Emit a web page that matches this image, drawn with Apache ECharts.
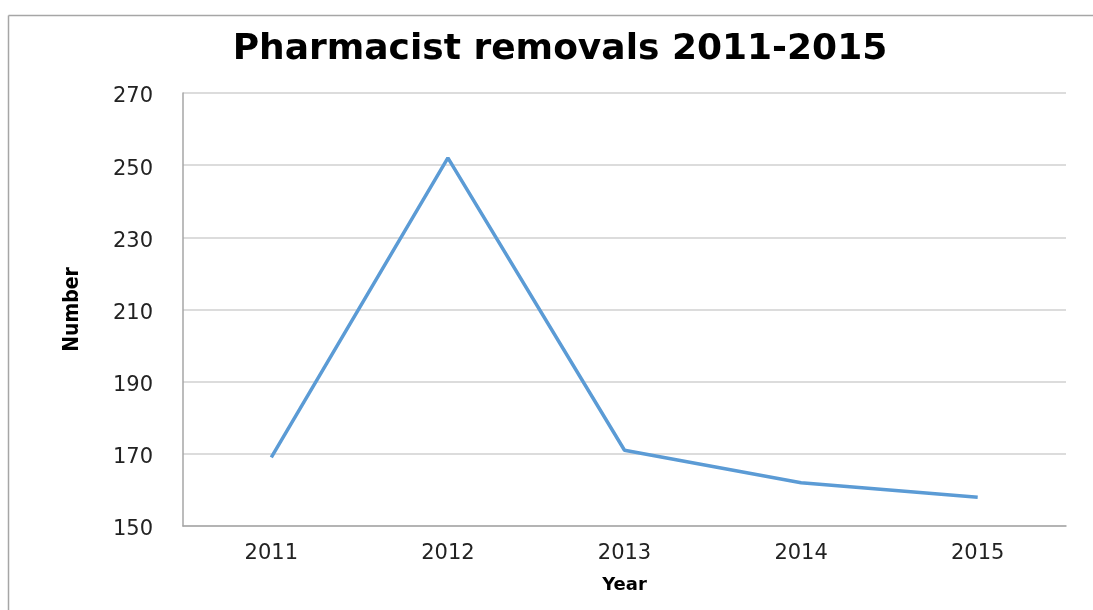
<!DOCTYPE html>
<html>
<head>
<meta charset="utf-8">
<script src="https://cdn.jsdelivr.net/npm/echarts@6/dist/echarts.min.js"></script>
<style>
  html, body { margin: 0; padding: 0; background: #fff; }
  #chart { width: 1093px; height: 610px; }
</style>
</head>
<body>
<div id="chart"></div>
<script>
const years = ['2011', '2012', '2013', '2014', '2015']
const removals = [169, 252, 171, 162, 158]

const chart = echarts.init(document.getElementById('chart'))

chart.setOption({
  animation: false,
  backgroundColor: '#fff',
  title: {
    text: 'Pharmacist removals 2011-2015',
    left: 555,
    top: 27,
    textAlign: 'center',
    textStyle: {
      fontFamily: 'DejaVu Sans',
      fontWeight: 'bold',
      fontSize: 36,
      color: '#000'
    }
  },
  graphic: [{
    type: 'line',
    shape: { x1: 8.5, y1: 15.5, x2: 8.5, y2: 610 },
    style: { stroke: '#a6a6a6', lineWidth: 1.5 }
  }, {
    type: 'line',
    shape: { x1: 8.5, y1: 15.5, x2: 1093, y2: 15.5 },
    style: { stroke: '#a6a6a6', lineWidth: 1.5 }
  }],
  grid: {
    left: 183,
    right: 27,
    top: 93,
    bottom: 84
  },
  xAxis: {
    type: 'category',
    data: years,
    boundaryGap: true,
    name: 'Year',
    nameLocation: 'middle',
    nameGap: 50,
    nameTextStyle: {
      fontFamily: 'DejaVu Sans',
      fontWeight: 'bold',
      fontSize: 18,
      color: '#000'
    },
    axisLine: { lineStyle: { color: '#a6a6a6', width: 1.5 } },
    axisTick: { show: false },
    axisLabel: {
      margin: 17,
      fontFamily: 'DejaVu Sans',
      fontSize: 21,
      color: '#222'
    }
  },
  yAxis: {
    type: 'value',
    min: 150,
    max: 270,
    interval: 20,
    name: 'Number',
    nameLocation: 'middle',
    nameGap: 100,
    nameRotate: 90,
    nameTextStyle: {
      fontFamily: ['Liberation Sans Narrow', 'DejaVu Sans Condensed', 'Liberation Sans', 'sans-serif'],
      fontWeight: 'bold',
      fontSize: 21,
      color: '#000'
    },
    axisLine: { show: true, lineStyle: { color: '#a6a6a6', width: 1.5 } },
    axisTick: { show: false },
    axisLabel: {
      margin: 30,
      verticalAlign: 'top',
      lineHeight: 8,
      fontFamily: 'DejaVu Sans',
      fontSize: 21,
      color: '#222'
    },
    splitLine: { lineStyle: { color: '#d0d0d0', width: 1.5 } }
  },
  series: [{
    type: 'line',
    data: removals,
    symbol: 'none',
    lineStyle: { color: '#5b9bd5', width: 3.5 }
  }]
})
</script>
</body>
</html>
